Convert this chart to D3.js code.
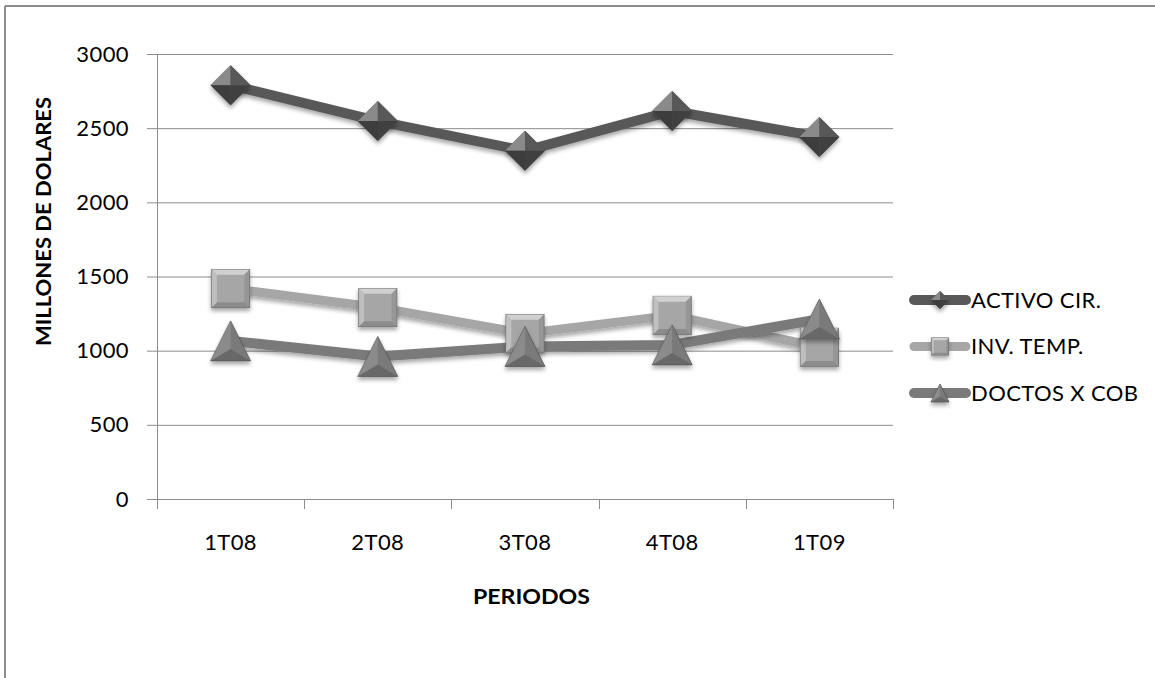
<!DOCTYPE html>
<html>
<head>
<meta charset="utf-8">
<script src="https://cdn.jsdelivr.net/npm/d3@7"></script>
<style>
  body { margin: 0; background: #fff; }
  svg { display: block; font-family: Lato, "Open Sans", sans-serif; }
</style>
</head>
<body>
<div class="chart"></div>
<script>
// datos
var periodos = ['1T08', '2T08', '3T08', '4T08', '1T09'];
var activoCir = [2790, 2548, 2347, 2616, 2441];
var invTemp = [1419, 1291, 1116, 1238, 1023];
var doctosCob = [1066, 961, 1028, 1039, 1213];
var yTicks = [0, 500, 1000, 1500, 2000, 2500, 3000];
var seriesNames = ['ACTIVO CIR.', 'INV. TEMP.', 'DOCTOS X COB'];

var series = [
  {name: seriesNames[0], values: activoCir, color: '#595959', light: '#8a8a8a', dark: '#3c3c3c', shape: 'diamond', width: 10},
  {name: seriesNames[1], values: invTemp, color: '#a6a6a6', light: '#d0d0d0', dark: '#8c8c8c', shape: 'square', width: 9},
  {name: seriesNames[2], values: doctosCob, color: '#7a7a7a', light: '#a0a0a0', dark: '#5c5c5c', shape: 'triangle', width: 10}
];

var fullWidth = 1155;
var fullHeight = 678;
var margin = {top: 54, left: 157, right: 262, bottom: 179};
var width = fullWidth - margin.left - margin.right;
var height = fullHeight - margin.top - margin.bottom;
var labelSize = 22;
var labelSpacing = '0.4px';

var svg = d3.select('.chart').append('svg')
  .attr('width', fullWidth)
  .attr('height', fullHeight);

// borde del area del grafico (solo arriba e izquierda visibles)
svg.append('line').attr('x1', 5).attr('y1', 6).attr('x2', fullWidth).attr('y2', 6)
  .attr('stroke', '#8c8c8c').attr('stroke-width', 2);
svg.append('line').attr('x1', 5).attr('y1', 6).attr('x2', 5).attr('y2', fullHeight)
  .attr('stroke', '#8c8c8c').attr('stroke-width', 2);

var defs = svg.append('defs');
var shadow = defs.append('filter').attr('id', 'shadow')
  .attr('x', '-30%').attr('y', '-30%').attr('width', '160%').attr('height', '170%');
shadow.append('feDropShadow').attr('dx', 0).attr('dy', 3).attr('stdDeviation', 2)
  .attr('flood-color', '#000').attr('flood-opacity', 0.35);

var g = svg.append('g')
  .attr('transform', 'translate(' + margin.left + ',' + margin.top + ')');

var xScale = d3.scaleBand()
  .domain(periodos)
  .range([0, width]);

var yScale = d3.scaleLinear()
  .domain([0, 3000])
  .range([height, 0]);

// lineas de division
g.append('g').selectAll('line.grid')
  .data(yTicks.filter(function(d) { return d > 0; }))
  .enter().append('line')
    .attr('x1', 0).attr('x2', width)
    .attr('y1', function(d) { return yScale(d) + 0.5; })
    .attr('y2', function(d) { return yScale(d) + 0.5; })
    .attr('stroke', '#8c8c8c').attr('stroke-width', 1);

var yAxis = d3.axisLeft(yScale).tickValues(yTicks).tickFormat(d3.format('d'))
  .tickSize(10).tickPadding(18);
var yAxisEle = g.append('g').call(yAxis);
yAxisEle.select('.domain').attr('stroke', '#8c8c8c').attr('d', 'M0.5,0V' + (height + 10));
yAxisEle.selectAll('.tick line').attr('stroke', '#8c8c8c');
yAxisEle.selectAll('.tick text').attr('font-size', labelSize).attr('fill', '#000')
  .attr('letter-spacing', labelSpacing)
  .attr('font-family', 'Lato, sans-serif');

// eje x con marcas en los bordes de cada categoria
g.append('line').attr('x1', 0).attr('x2', width)
  .attr('y1', height + 0.5).attr('y2', height + 0.5).attr('stroke', '#8c8c8c');
var edges = periodos.map(function(d) { return xScale(d); }).concat([width]);
g.append('g').selectAll('line.xtick')
  .data(edges)
  .enter().append('line')
    .attr('x1', function(d) { return Math.round(d) + 0.5; })
    .attr('x2', function(d) { return Math.round(d) + 0.5; })
    .attr('y1', height).attr('y2', height + 10)
    .attr('stroke', '#8c8c8c');
g.append('g').selectAll('text.xlab')
  .data(periodos)
  .enter().append('text')
    .attr('x', function(d) { return xScale(d) + xScale.bandwidth() / 2; })
    .attr('y', height + 43)
    .attr('dy', '0.35em')
    .attr('text-anchor', 'middle')
    .attr('font-size', labelSize)
    .attr('letter-spacing', labelSpacing)
    .text(function(d) { return d; });

// titulos de ejes
svg.append('text')
  .attr('x', 473).attr('y', 597).attr('dy', '0.35em')
  .attr('textLength', 117).attr('lengthAdjust', 'spacingAndGlyphs')
  .attr('font-size', 21).attr('font-weight', 'bold')
  .text('PERIODOS');
svg.append('text')
  .attr('transform', 'translate(44,346) rotate(-90)')
  .attr('dy', '0.35em')
  .attr('textLength', 249).attr('lengthAdjust', 'spacingAndGlyphs')
  .attr('font-size', 20).attr('font-weight', 'bold')
  .text('MILLONES DE DOLARES');

// marcadores con efecto biselado
function drawMarker(sel, s, cx, cy, r) {
  var m = sel.append('g').attr('transform', 'translate(' + cx + ',' + cy + ')')
    .attr('filter', 'url(#shadow)');
  if (s.shape === 'diamond') {
    m.append('path').attr('d', 'M0,' + -r + 'L' + r + ',0L0,' + r + 'L' + -r + ',0Z').attr('fill', s.color);
    m.append('path').attr('d', 'M0,' + -r + 'L' + -r + ',0L0,0Z').attr('fill', s.light);
    m.append('path').attr('d', 'M0,' + -r + 'L' + r + ',0L0,0Z').attr('fill', s.color);
    m.append('path').attr('d', 'M' + -r + ',0L0,' + r + 'L0,0Z').attr('fill', s.dark);
    m.append('path').attr('d', 'M' + r + ',0L0,' + r + 'L0,0Z').attr('fill', s.dark).attr('opacity', 0.85);
  } else if (s.shape === 'square') {
    var q = r * 0.95;
    var i = q * 0.72;
    m.append('rect').attr('x', -q).attr('y', -q).attr('width', 2 * q).attr('height', 2 * q)
      .attr('fill', s.color).attr('stroke', '#6e6e6e').attr('stroke-width', 1);
    m.append('path').attr('d', 'M' + -q + ',' + -q + 'L' + q + ',' + -q + 'L' + i + ',' + -i + 'L' + -i + ',' + -i + 'Z').attr('fill', s.light);
    m.append('path').attr('d', 'M' + -q + ',' + q + 'L' + q + ',' + q + 'L' + i + ',' + i + 'L' + -i + ',' + i + 'Z').attr('fill', s.dark);
    m.append('path').attr('d', 'M' + -q + ',' + -q + 'L' + -i + ',' + -i + 'L' + -i + ',' + i + 'L' + -q + ',' + q + 'Z').attr('fill', s.light).attr('opacity', 0.6);
    m.append('path').attr('d', 'M' + q + ',' + -q + 'L' + i + ',' + -i + 'L' + i + ',' + i + 'L' + q + ',' + q + 'Z').attr('fill', s.dark).attr('opacity', 0.6);
  } else {
    var h = r;
    m.append('path').attr('d', 'M0,' + -h + 'L' + r + ',' + h + 'L' + -r + ',' + h + 'Z').attr('fill', s.color)
      .attr('stroke', '#5a5a5a').attr('stroke-width', 0.8);
    m.append('path').attr('d', 'M0,' + -h + 'L0,' + (h * 0.4) + 'L' + -r + ',' + h + 'Z').attr('fill', s.light).attr('opacity', 0.45);
    m.append('path').attr('d', 'M' + -r + ',' + h + 'L0,' + (h * 0.4) + 'L' + r + ',' + h + 'Z').attr('fill', s.dark).attr('opacity', 0.6);
  }
}

var line = d3.line()
  .x(function(d, i) { return xScale(periodos[i]) + xScale.bandwidth() / 2; })
  .y(function(d) { return yScale(d); });

var lineHolder = g.append('g').classed('lines', true);
series.forEach(function(s) {
  lineHolder.append('path')
    .attr('d', line(s.values))
    .attr('fill', 'none')
    .attr('stroke', s.color)
    .attr('stroke-width', s.width)
    .attr('stroke-linejoin', 'round')
    .attr('filter', 'url(#shadow)');
});

var markerHolder = g.append('g').classed('markers', true);
series.forEach(function(s) {
  s.values.forEach(function(v, i) {
    drawMarker(markerHolder, s, xScale(periodos[i]) + xScale.bandwidth() / 2, yScale(v), 20);
  });
});

// leyenda
var legend = svg.append('g').attr('transform', 'translate(910,300)');
series.forEach(function(s, i) {
  var item = legend.append('g').attr('transform', 'translate(0,' + (i * 46.5) + ')');
  item.append('line').attr('x1', 4).attr('x2', 56).attr('y1', 0).attr('y2', 0)
    .attr('stroke', s.color).attr('stroke-width', s.width).attr('stroke-linecap', 'round');
  drawMarker(item, s, 30, 0, 9);
  item.append('text').attr('x', 61).attr('y', 0).attr('dy', '0.35em')
    .attr('font-size', labelSize).attr('letter-spacing', labelSpacing).text(s.name);
});
</script>
</body>
</html>
